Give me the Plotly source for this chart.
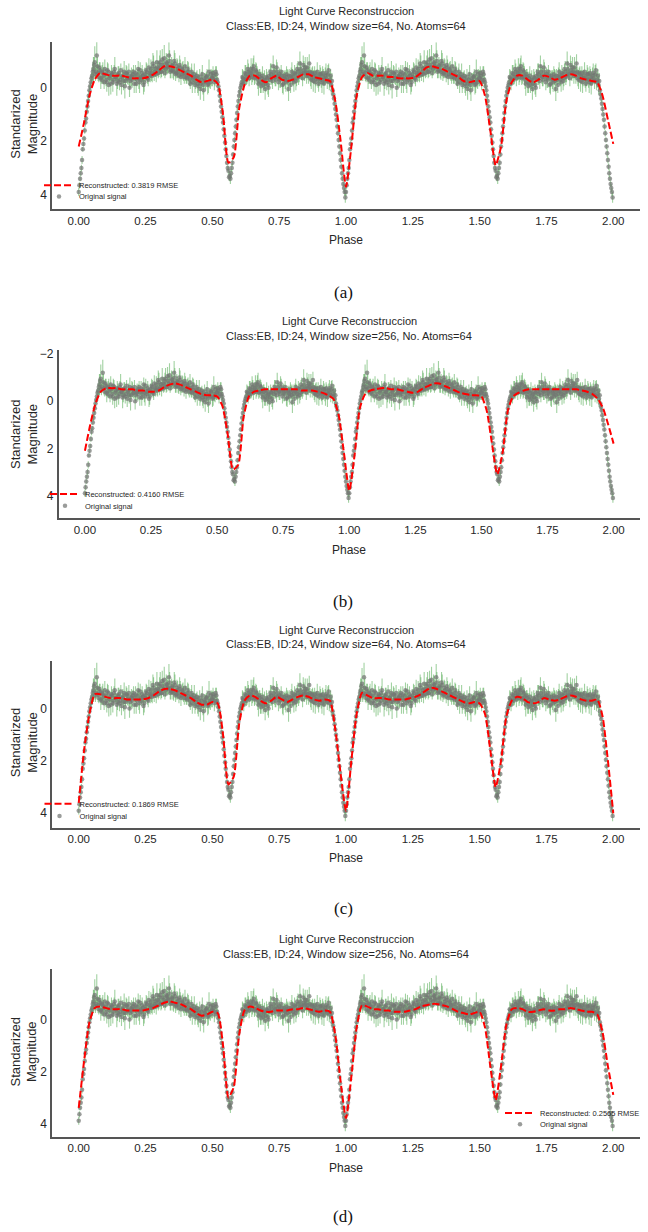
import numpy as np
import plotly.graph_objects as go

# ---------------- data ----------------
# Observed folded light curve (standardized magnitude), set 1: phase 0 -> 1, step 0.005
obs_mag = [
    3.90, 3.40, 3.00, 2.30, 1.90, 1.30, 0.90, 0.50, 0.10, -0.20,
    -0.45, -0.70, -0.95, -0.60, -0.80, -0.40, -0.65, -0.30, -0.55, -0.20,
    -0.50, -0.20, -0.60, -0.35, -0.15, -0.50, -0.30, -0.70, -0.40, -0.25,
    -0.55, -0.30, -0.10, -0.45, -0.60, -0.25, -0.50, -0.35, 0.00, -0.45,
    -0.30, -0.60, -0.40, -0.15, -0.50, -0.35, -0.65, -0.30, -0.45, -0.20,
    -0.40, -0.60, -0.30, -0.55, -0.70, -0.45, -0.80, -0.60, -0.50, -0.75,
    -0.70, -0.95, -0.60, -0.85, -1.10, -0.70, -0.90, -0.75, -1.00, -0.65,
    -0.80, -0.60, -0.90, -0.55, -0.70, -0.45, -0.75, -0.50, -0.65, -0.40,
    -0.55, -0.35, -0.60, -0.30, -0.45, -0.20, -0.40, -0.10, -0.35, -0.15,
    -0.25, 0.05, -0.30, -0.10, -0.35, -0.20, -0.45, -0.15, -0.30, -0.50,
    -0.35, -0.45, -0.30, -0.50, -0.20, 0.10, 0.50, 0.90, 1.30, 1.80,
    2.30, 2.80, 3.10, 3.30, 3.20, 2.80, 2.20, 1.70, 1.20, 0.70,
    0.30, 0.00, -0.20, -0.35, -0.30, -0.50, -0.40, -0.60, -0.45, -0.70,
    -0.55, -0.80, -0.40, -0.60, -0.30, -0.50, -0.20, -0.35, -0.10, -0.30,
    -0.15, -0.35, 0.00, -0.30, -0.50, -0.25, -0.60, -0.40, -0.75, -0.45,
    -0.50, -0.30, -0.45, -0.15, -0.35, -0.20, -0.40, 0.05, -0.30, -0.45,
    -0.40, -0.20, -0.50, -0.35, -0.60, -0.45, -0.70, -0.50, -0.85, -0.55,
    -0.60, -0.75, -0.45, -0.60, -0.30, -0.50, -0.40, -0.20, -0.45, -0.30,
    -0.35, -0.50, -0.20, -0.40, -0.30, -0.55, -0.25, -0.65, -0.30, -0.10,
    0.10, 0.40, 0.80, 1.20, 1.70, 2.20, 2.70, 3.20, 3.60, 3.90,
]
obs_err = [
    0.15, 0.10, 0.12, 0.08, 0.10, 0.15, 0.12, 0.20, 0.18, 0.25,
    0.30, 0.45, 0.60, 0.25, 0.35, 0.20, 0.30, 0.15, 0.40, 0.25,
    0.20, 0.35, 0.30, 0.15, 0.40, 0.25, 0.20, 0.45, 0.15, 0.30,
    0.25, 0.20, 0.35, 0.30, 0.40, 0.15, 0.30, 0.25, 0.35, 0.20,
    0.30, 0.25, 0.15, 0.35, 0.20, 0.40, 0.30, 0.20, 0.25, 0.35,
    0.20, 0.30, 0.25, 0.15, 0.35, 0.25, 0.40, 0.20, 0.30, 0.25,
    0.30, 0.45, 0.20, 0.30, 0.50, 0.25, 0.35, 0.20, 0.40, 0.30,
    0.25, 0.30, 0.40, 0.20, 0.35, 0.25, 0.30, 0.15, 0.35, 0.25,
    0.30, 0.20, 0.35, 0.25, 0.30, 0.40, 0.20, 0.30, 0.25, 0.35,
    0.25, 0.40, 0.30, 0.35, 0.20, 0.30, 0.25, 0.35, 0.30, 0.20,
    0.30, 0.20, 0.25, 0.30, 0.20, 0.15, 0.12, 0.10, 0.12, 0.10,
    0.12, 0.10, 0.15, 0.20, 0.18, 0.12, 0.10, 0.12, 0.10, 0.15,
    0.20, 0.15, 0.25, 0.30, 0.20, 0.35, 0.25, 0.30, 0.20, 0.40,
    0.35, 0.40, 0.25, 0.30, 0.35, 0.20, 0.40, 0.25, 0.30, 0.35,
    0.30, 0.25, 0.35, 0.20, 0.40, 0.30, 0.25, 0.35, 0.30, 0.20,
    0.25, 0.30, 0.20, 0.40, 0.25, 0.35, 0.30, 0.45, 0.20, 0.30,
    0.30, 0.35, 0.20, 0.30, 0.40, 0.25, 0.30, 0.20, 0.35, 0.30,
    0.25, 0.40, 0.30, 0.20, 0.35, 0.30, 0.25, 0.40, 0.20, 0.30,
    0.30, 0.25, 0.40, 0.30, 0.20, 0.35, 0.30, 0.25, 0.30, 0.35,
    0.20, 0.15, 0.12, 0.10, 0.12, 0.10, 0.12, 0.15, 0.10, 0.15,
]
# set 2: phase 0.0025 -> 0.9975, step 0.005
obs_mag2 = [
    3.65, 3.20, 2.70, 2.10, 1.60, 1.15, 0.70, 0.30, -0.05, -0.35,
    -0.60, -0.85, -0.50, -1.20, -0.55, -0.75, -0.35, -0.60, -0.45, -0.70,
    -0.30, -0.65, -0.10, -0.45, -0.55, -0.20, -0.60, -0.40, -0.15, -0.50,
    -0.20, -0.65, -0.40, -0.25, -0.05, -0.55, -0.35, -0.60, -0.25, -0.40,
    -0.50, -0.15, -0.55, -0.30, -0.70, -0.20, -0.40, -0.55, -0.10, -0.50,
    -0.65, -0.35, -0.75, -0.45, -0.55, -0.90, -0.50, -0.70, -0.95, -0.55,
    -0.85, -0.60, -1.05, -0.75, -0.55, -0.95, -0.80, -1.20, -0.60, -0.85,
    -0.65, -1.00, -0.50, -0.80, -0.60, -0.85, -0.40, -0.70, -0.55, -0.80,
    -0.40, -0.70, -0.45, -0.15, -0.60, -0.35, -0.50, -0.25, -0.45, -0.05,
    -0.40, -0.15, -0.50, 0.10, -0.25, -0.40, -0.10, -0.60, -0.20, -0.35,
    -0.55, -0.20, -0.60, -0.30, -0.05, 0.30, 0.70, 1.10, 1.55, 2.05,
    2.55, 3.00, 3.35, 3.40, 3.00, 2.50, 1.95, 1.45, 0.95, 0.50,
    0.15, -0.10, -0.40, -0.15, -0.55, -0.30, -0.70, -0.35, -0.55, -0.40,
    -0.70, -0.35, -0.65, -0.45, -0.15, -0.40, -0.05, -0.45, -0.25, 0.05,
    -0.40, -0.10, -0.45, -0.60, -0.35, -0.80, -0.45, -0.30, -0.60, -0.20,
    -0.35, -0.60, -0.10, -0.45, -0.30, -0.50, -0.25, -0.45, -0.10, -0.60,
    -0.30, -0.55, -0.25, -0.70, -0.40, -0.90, -0.55, -0.35, -0.65, -0.75,
    -0.45, -0.55, -0.90, -0.35, -0.55, -0.25, -0.55, -0.35, -0.60, -0.15,
    -0.50, -0.30, -0.55, -0.15, -0.45, -0.35, -0.50, -0.20, -0.45, -0.25,
    0.25, 0.60, 1.00, 1.45, 1.95, 2.45, 2.95, 3.40, 3.75, 4.10,
]
obs_err2 = [
    0.12, 0.10, 0.15, 0.10, 0.12, 0.10, 0.15, 0.20, 0.15, 0.20,
    0.35, 0.30, 0.25, 0.55, 0.30, 0.20, 0.40, 0.25, 0.30, 0.35,
    0.25, 0.30, 0.40, 0.20, 0.30, 0.35, 0.25, 0.20, 0.45, 0.30,
    0.30, 0.25, 0.20, 0.35, 0.45, 0.30, 0.20, 0.30, 0.25, 0.35,
    0.20, 0.35, 0.30, 0.25, 0.30, 0.40, 0.20, 0.30, 0.35, 0.25,
    0.30, 0.20, 0.35, 0.25, 0.30, 0.40, 0.25, 0.30, 0.45, 0.20,
    0.35, 0.25, 0.40, 0.30, 0.20, 0.35, 0.30, 0.50, 0.25, 0.30,
    0.30, 0.40, 0.25, 0.30, 0.20, 0.35, 0.30, 0.25, 0.30, 0.35,
    0.25, 0.30, 0.35, 0.20, 0.30, 0.25, 0.40, 0.30, 0.20, 0.35,
    0.30, 0.25, 0.35, 0.40, 0.30, 0.20, 0.35, 0.45, 0.25, 0.30,
    0.25, 0.30, 0.20, 0.25, 0.15, 0.12, 0.10, 0.12, 0.10, 0.12,
    0.15, 0.10, 0.12, 0.20, 0.15, 0.10, 0.12, 0.10, 0.15, 0.12,
    0.15, 0.20, 0.30, 0.25, 0.30, 0.20, 0.35, 0.30, 0.25, 0.30,
    0.40, 0.25, 0.30, 0.35, 0.45, 0.30, 0.25, 0.35, 0.30, 0.40,
    0.30, 0.35, 0.25, 0.30, 0.20, 0.40, 0.30, 0.25, 0.35, 0.30,
    0.35, 0.25, 0.30, 0.20, 0.35, 0.30, 0.40, 0.25, 0.30, 0.35,
    0.25, 0.30, 0.35, 0.20, 0.30, 0.45, 0.25, 0.30, 0.35, 0.40,
    0.30, 0.25, 0.35, 0.30, 0.20, 0.40, 0.25, 0.30, 0.35, 0.30,
    0.35, 0.30, 0.25, 0.40, 0.30, 0.20, 0.35, 0.30, 0.25, 0.30,
    0.15, 0.12, 0.10, 0.12, 0.10, 0.15, 0.12, 0.10, 0.15, 0.20,
]

# Reconstructions, phase 0 -> 2, step 0.02 (101 values each)
recon_a = [
    2.2, 1.3, 0.3, -0.3, -0.55, -0.5, -0.45, -0.45, -0.45, -0.4,
    -0.35, -0.35, -0.35, -0.4, -0.5, -0.65, -0.8, -0.8, -0.75, -0.65,
    -0.55, -0.45, -0.3, -0.2, -0.25, -0.3, -0.15, 1.0, 2.8, 2.6,
    0.8, -0.1, -0.45, -0.45, -0.3, -0.2, -0.35, -0.45, -0.3, -0.25,
    -0.3, -0.4, -0.5, -0.5, -0.4, -0.35, -0.3, -0.25, 0.5, 2.0,
    3.7,
    2.2, 0.3, -0.4, -0.55, -0.45, -0.45, -0.45, -0.4, -0.4,
    -0.35, -0.35, -0.35, -0.4, -0.55, -0.75, -0.8, -0.75, -0.7, -0.6,
    -0.5, -0.4, -0.25, -0.2, -0.25, -0.25, 0.3, 1.6, 2.9, 2.2,
    0.5, -0.2, -0.45, -0.45, -0.3, -0.2, -0.3, -0.45, -0.4, -0.3,
    -0.35, -0.45, -0.5, -0.45, -0.35, -0.3, -0.25, -0.2, 0.3, 1.2,
    2.1,
]
recon_b = [
    2.1, 1.0, 0.1, -0.4, -0.55, -0.55, -0.55, -0.5, -0.5, -0.5,
    -0.45, -0.45, -0.4, -0.4, -0.45, -0.6, -0.7, -0.75, -0.7, -0.6,
    -0.5, -0.4, -0.3, -0.25, -0.25, -0.2, 0.2, 1.4, 2.9, 2.7,
    0.7, -0.2, -0.4, -0.45, -0.5, -0.5, -0.5, -0.5, -0.5, -0.5,
    -0.5, -0.45, -0.45, -0.45, -0.4, -0.35, -0.25, -0.1, 0.6, 2.2,
    3.8,
    2.3, 0.3, -0.3, -0.45, -0.5, -0.55, -0.55, -0.5, -0.5,
    -0.45, -0.4, -0.35, -0.4, -0.55, -0.65, -0.75, -0.75, -0.65, -0.55,
    -0.45, -0.35, -0.3, -0.25, -0.25, -0.2, 0.4, 1.8, 3.1, 2.2,
    0.4, -0.2, -0.35, -0.45, -0.5, -0.5, -0.5, -0.5, -0.5, -0.5,
    -0.5, -0.5, -0.5, -0.5, -0.45, -0.4, -0.3, -0.1, 0.3, 1.0,
    1.8,
]
recon_c = [
    3.6, 1.6, 0.2, -0.55, -0.55, -0.45, -0.4, -0.4, -0.4, -0.35,
    -0.35, -0.35, -0.35, -0.4, -0.5, -0.65, -0.75, -0.75, -0.7, -0.6,
    -0.5, -0.4, -0.25, -0.15, -0.15, -0.25, -0.2, 1.0, 2.9, 2.6,
    0.6, -0.3, -0.5, -0.45, -0.3, -0.2, -0.3, -0.45, -0.35, -0.25,
    -0.35, -0.45, -0.5, -0.45, -0.35, -0.3, -0.35, -0.3, 0.8, 2.5,
    3.9,
    2.0, 0.2, -0.6, -0.5, -0.4, -0.4, -0.4, -0.35, -0.35,
    -0.35, -0.35, -0.4, -0.45, -0.55, -0.7, -0.8, -0.75, -0.65, -0.55,
    -0.45, -0.35, -0.25, -0.2, -0.25, -0.2, 0.2, 1.6, 3.0, 2.0,
    0.3, -0.3, -0.45, -0.4, -0.25, -0.2, -0.25, -0.4, -0.35, -0.3,
    -0.35, -0.45, -0.5, -0.45, -0.35, -0.3, -0.3, -0.35, 0.3, 2.0,
    4.0,
]
recon_d = [
    3.4, 1.6, 0.1, -0.45, -0.5, -0.45, -0.4, -0.4, -0.4, -0.35,
    -0.35, -0.35, -0.35, -0.4, -0.45, -0.55, -0.65, -0.7, -0.65, -0.6,
    -0.5, -0.4, -0.25, -0.15, -0.2, -0.3, -0.25, 1.0, 3.0, 2.6,
    0.6, -0.35, -0.5, -0.45, -0.35, -0.3, -0.3, -0.35, -0.35, -0.35,
    -0.4, -0.4, -0.45, -0.4, -0.35, -0.3, -0.35, -0.3, 0.6, 2.4,
    3.8,
    2.2, 0.3, -0.55, -0.5, -0.4, -0.4, -0.35, -0.35, -0.3,
    -0.3, -0.3, -0.35, -0.4, -0.5, -0.55, -0.6, -0.6, -0.55, -0.5,
    -0.4, -0.3, -0.25, -0.2, -0.25, -0.3, 0.3, 1.8, 3.1, 1.8,
    0.2, -0.4, -0.45, -0.4, -0.3, -0.3, -0.35, -0.4, -0.35, -0.35,
    -0.4, -0.4, -0.45, -0.4, -0.35, -0.3, -0.3, -0.2, 0.5, 1.8,
    2.9,
]

window_sizes = [64, 256, 64, 256]
rmse_values = ["0.3819", "0.4160", "0.1869", "0.2565"]
panel_labels = ["(a)", "(b)", "(c)", "(d)"]
recons = [recon_a, recon_b, recon_c, recon_d]
xtick_vals = [0, 0.25, 0.5, 0.75, 1.0, 1.25, 1.5, 1.75, 2.0]
xtick_text = ["0.00", "0.25", "0.50", "0.75", "1.00", "1.25", "1.50", "1.75", "2.00"]

# phase folding: one cycle duplicated to cover 0 -> 2
phase1 = np.arange(len(obs_mag)) * 0.005
phase2 = phase1 + 0.0025
phase_cycle = np.concatenate([phase1, phase2])
mag_cycle = np.concatenate([obs_mag, obs_mag2])
err_cycle = np.concatenate([obs_err, obs_err2])
phase_obs = np.concatenate([phase_cycle, phase_cycle + 1.0])
mag_obs = np.concatenate([mag_cycle, mag_cycle])
err_obs = np.concatenate([err_cycle, err_cycle])
phase_rec = np.linspace(0, 2, len(recon_a))

# ---------------- layout config (pixels of 648x1232 page) ----------------
W, H = 648, 1232
SANS = "Liberation Sans, Arial, sans-serif"
SERIF = "Liberation Serif, DejaVu Serif, serif"
TXT = "#262626"

panels = [
    dict(left=52, top=39.3, bottom=206.7, yr=[4.54, -1.70], t1=8.5, t2=23, ph=238, lab=290, ytc=122,
         legx=39, leg1=182.7, leg2=194),
    dict(left=58.5, top=348, bottom=516.7, yr=[4.97, -2.16], t1=318.5, t2=333.5, ph=548.5, lab=600, ytc=433,
         legx=45, leg1=492.3, leg2=504),
    dict(left=52, top=659.3, bottom=826.7, yr=[4.55, -1.83], t1=628.5, t2=643, ph=857.5, lab=908, ytc=742,
         legx=39.5, leg1=802.7, leg2=815),
    dict(left=52, top=968.3, bottom=1136.7, yr=[4.52, -1.95], t1=938.5, t2=953, ph=1167.5, lab=1216, ytc=1052,
         legx=500, leg1=1112.7, leg2=1124),
]
RIGHT = 640

fig = go.Figure()
annotations = []
layout = dict(
    width=W, height=H, margin=dict(l=0, r=0, t=0, b=0),
    paper_bgcolor="white", plot_bgcolor="white", showlegend=True,
    font=dict(family=SANS, color=TXT, size=12),
)

for i, p in enumerate(panels):
    n = "" if i == 0 else str(i + 1)
    xa, ya = "x" + n, "y" + n
    leg_rec = "legend" + ("" if i == 0 else str(2 * i + 1))
    leg_obs = "legend" + str(2 * i + 2)

    fig.add_trace(go.Scatter(
        x=phase_obs, y=mag_obs, mode="markers", name="Original signal",
        xaxis=xa, yaxis=ya, legend=leg_obs, showlegend=True,
        marker=dict(color="rgba(115,118,115,0.72)", size=4.5, line=dict(width=0)),
        error_y=dict(type="data", array=err_obs, visible=True, color="rgba(70,165,70,0.5)",
                     thickness=1.1, width=0),
    ))
    fig.add_trace(go.Scatter(
        x=phase_rec, y=recons[i], mode="lines",
        name=f"Reconstructed: {rmse_values[i]} RMSE",
        xaxis=xa, yaxis=ya, legend=leg_rec, showlegend=True,
        line=dict(color="#ff0000", width=2, dash="7px,3px", shape="spline", smoothing=0.6),
    ))

    dom_x = [p["left"] / W, RIGHT / W]
    dom_y = [1 - p["bottom"] / H, 1 - p["top"] / H]
    layout["xaxis" + n] = dict(
        domain=dom_x, range=[-0.1, 2.1], anchor=ya, showgrid=False, zeroline=False,
        tickvals=xtick_vals, ticktext=xtick_text,
        ticks="", showline=True, linecolor="#555555", linewidth=1.5,
        tickfont=dict(size=11.5, color=TXT, family=SANS), ticklabelstandoff=0,
    )
    layout["yaxis" + n] = dict(
        domain=dom_y, range=p["yr"], anchor=xa, showgrid=False, zeroline=False,
        tick0=0, dtick=2, ticks="", showline=True, linecolor="#555555", linewidth=1.5,
        tickfont=dict(size=12, color=TXT, family=SANS), ticklabelstandoff=1,
    )
    for lg, yy in ((leg_rec, p["leg1"]), (leg_obs, p["leg2"])):
        layout[lg] = dict(
            x=p["legx"] / W, y=1 - yy / H, xanchor="left", yanchor="middle",
            xref="paper", yref="paper", bgcolor="rgba(0,0,0,0)", borderwidth=0,
            font=dict(size=7.5, color="#262626", family=SANS), itemwidth=30,
        )

    cx = (p["left"] + RIGHT) / 2 / W
    annotations += [
        dict(text="Light Curve Reconstruccion", x=cx, y=1 - p["t1"] / H, xref="paper", yref="paper",
             showarrow=False, xanchor="center", yanchor="middle", font=dict(size=11, color=TXT, family=SANS)),
        dict(text=f"Class:EB, ID:24, Window size={window_sizes[i]}, No. Atoms=64", x=cx, y=1 - p["t2"] / H,
             xref="paper", yref="paper", showarrow=False, xanchor="center", yanchor="middle",
             font=dict(size=11, color=TXT, family=SANS)),
        dict(text="Phase", x=cx, y=1 - p["ph"] / H, xref="paper", yref="paper", showarrow=False,
             xanchor="center", yanchor="middle", font=dict(size=12, color=TXT, family=SANS)),
        dict(text="Standarized<br>Magnitude", x=24 / W, y=1 - p["ytc"] / H, xref="paper", yref="paper",
             showarrow=False, xanchor="center", yanchor="middle", textangle=-90,
             font=dict(size=13, color=TXT, family=SANS)),
        dict(text=panel_labels[i], x=343 / W, y=1 - p["lab"] / H, xref="paper", yref="paper",
             showarrow=False, xanchor="center", yanchor="middle", font=dict(size=17, color="#111111", family=SERIF)),
    ]

layout["annotations"] = annotations
fig.update_layout(**layout)
fig.write_html("out.html", config={"displayModeBar": False},
               post_script="document.body.style.margin='0px';")
